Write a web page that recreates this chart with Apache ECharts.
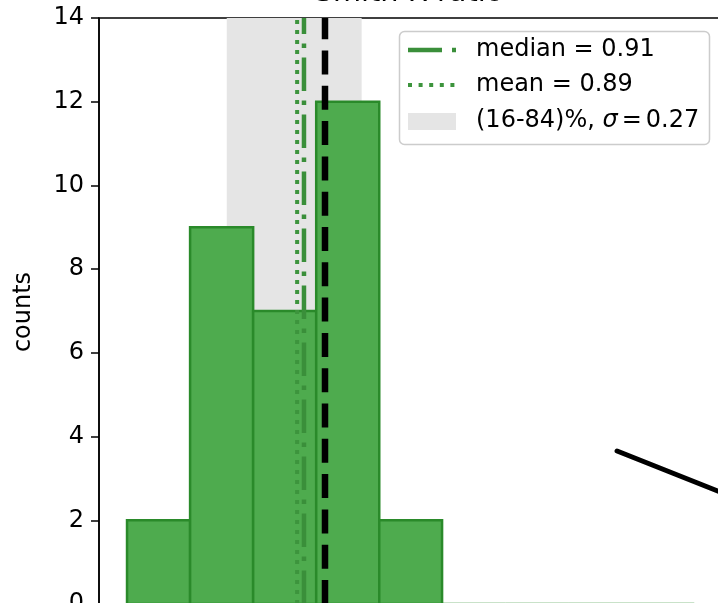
<!DOCTYPE html>
<html><head><meta charset="utf-8">
<script src="https://cdn.jsdelivr.net/npm/echarts@6/dist/echarts.min.js"></script>
<style>html,body{margin:0;padding:0;background:#fff}#c{width:718px;height:603px}</style>
</head><body><div id="c"></div>
<script>
// ---- data ----
const binEdges = [0.19, 0.448, 0.706, 0.964, 1.222, 1.479, 1.737, 1.995, 2.253, 2.511];
const counts = [2, 9, 7, 12, 2, 0, 0, 0, 0];
const medianVal = 0.914;
const meanVal = 0.886;
const sigmaVal = 0.27;
const pct16 = 0.598;
const pct84 = 1.150;
const refVal = 1.0;
const trendX = [2.195, 2.62];
const trendY = [3.655, 2.67];
const yTicks = [0, 2, 4, 6, 8, 10, 12, 14];
const titleText = 'Smith R ratio';
const yName = 'counts';
const legendLabels = ['median = ' + medianVal.toFixed(2), 'mean = ' + meanVal.toFixed(2)];

const FONT = 'DejaVu Sans';
const Y0 = yTicks[0], Y1 = yTicks[yTicks.length - 1];
const histData = counts.map((c, i) => [binEdges[i], binEdges[i + 1], c]);
const trendData = trendX.map((x, i) => [x, trendY[i]]);
const vline = (x) => [[x, Y0], [x, Y1]];

const chart = echarts.init(document.getElementById('c'), null, {renderer: 'canvas'});
const option = {
  animation: false,
  backgroundColor: '#fff',
  grid: {left: 99, top: 18, right: -1, bottom: -1, outerBoundsMode: 'none', containLabel: false,
         show: true, borderColor: '#000', borderWidth: 1.5, backgroundColor: 'transparent'},
  xAxis: {
    type: 'value', min: 0.0753, max: 2.6121,
    axisLine: {show: false}, axisTick: {show: false}, axisLabel: {show: false}, splitLine: {show: false}
  },
  yAxis: {
    type: 'value', min: Y0, max: Y1, interval: 2,
    axisLine: {show: true, lineStyle: {color: '#000', width: 1.5}},
    axisTick: {show: true, inside: false, length: 8, lineStyle: {color: '#000', width: 1.5}},
    axisLabel: {fontSize: 24, fontFamily: FONT, color: '#000', margin: 15},
    splitLine: {show: false}
  },
  series: [
    {
      type: 'line', data: [], z: 1, silent: true,
      markArea: {silent: true, itemStyle: {color: '#e5e5e5'}, data: [[{xAxis: pct16}, {xAxis: pct84}]]}
    },
    {
      type: 'custom', z: 2, data: histData, silent: true,
      renderItem: function (params, api) {
        const p0 = api.coord([api.value(0), api.value(2)]);
        const p1 = api.coord([api.value(1), 0]);
        return {
          type: 'rect',
          shape: {x: p0[0], y: p0[1], width: p1[0] - p0[0], height: p1[1] - p0[1]},
          style: {fill: '#4eab4e', stroke: '#2a8a2a', lineWidth: 2.5}
        };
      }
    },
    {type: 'line', data: vline(meanVal), z: 3, symbol: 'none', silent: true, clip: false,
     lineStyle: {color: '#3d943d', width: 4, type: [4, 6]}},
    {type: 'line', data: vline(medianVal), z: 3, symbol: 'none', silent: true, clip: false,
     lineStyle: {color: '#3a8f3a', width: 4.5, type: [33.5, 9.5, 4.5, 9.5]}},
    {type: 'line', data: vline(refVal), z: 3, symbol: 'none', silent: true, clip: false,
     lineStyle: {color: '#000', width: 6.5, type: [24, 11.3]}},
    {
      type: 'line', data: trendData, z: 4, symbol: 'none', silent: true,
      lineStyle: {color: '#000', width: 5, cap: 'round'}
    }
  ],
  graphic: [
    {type: 'text', x: 409, y: -6, z: 10,
     style: {text: titleText, font: '28.8px "DejaVu Sans"', fill: '#000', align: 'center', verticalAlign: 'middle'}},
    {type: 'text', x: 24, y: 312, rotation: Math.PI / 2, z: 10,
     style: {text: yName, font: '24px "DejaVu Sans"', fill: '#000', align: 'center', verticalAlign: 'middle'}},
    {type: 'rect', z: 20, shape: {x: 399.5, y: 31.5, width: 310, height: 113, r: 5},
     style: {fill: 'rgba(255,255,255,0.85)', stroke: '#cccccc', lineWidth: 1.5}},
    {type: 'line', z: 21, shape: {x1: 408, y1: 50, x2: 457, y2: 50},
     style: {stroke: '#3a8f3a', lineWidth: 4.5, lineDash: [34, 10, 4, 10]}},
    {type: 'line', z: 21, shape: {x1: 408, y1: 85, x2: 457, y2: 85},
     style: {stroke: '#3d943d', lineWidth: 4, lineDash: [4, 6.6]}},
    {type: 'rect', z: 21, shape: {x: 408, y: 113, width: 48, height: 17},
     style: {fill: '#e5e5e5'}},
    {type: 'text', z: 22, x: 476, y: 50,
     style: {text: legendLabels[0], font: '24px "DejaVu Sans"', fill: '#000', verticalAlign: 'middle'}},
    {type: 'text', z: 22, x: 476, y: 85,
     style: {text: legendLabels[1], font: '24px "DejaVu Sans"', fill: '#000', verticalAlign: 'middle'}},
    {type: 'text', z: 22, x: 476, y: 121,
     style: {
       text: '{a|(16-84)%, }{s|σ}{e|=}{a|' + sigmaVal.toFixed(2) + '}',
       verticalAlign: 'middle',
       rich: {
         a: {fontFamily: FONT, fontSize: 24, color: '#000'},
         s: {fontFamily: FONT, fontSize: 24, fontStyle: 'italic', color: '#000'},
         e: {fontFamily: FONT, fontSize: 24, color: '#000', padding: [0, 4, 0, 4]}
       }
     }}
  ]
};
chart.setOption(option);
</script>
</body></html>
